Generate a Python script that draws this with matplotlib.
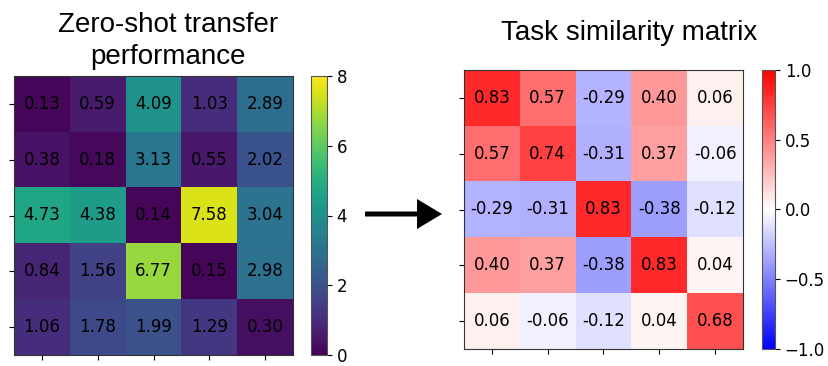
import numpy as np
import matplotlib
matplotlib.use("Agg")
import matplotlib.pyplot as plt
from matplotlib.patches import FancyArrow

# zero-shot transfer values (rows = tasks)
transfer = [
    [0.13, 0.59, 4.09, 1.03, 2.89],
    [0.38, 0.18, 3.13, 0.55, 2.02],
    [4.73, 4.38, 0.14, 7.58, 3.04],
    [0.84, 1.56, 6.77, 0.15, 2.98],
    [1.06, 1.78, 1.99, 1.29, 0.30],
]

# task similarity values
similarity = [
    [0.83, 0.57, -0.29, 0.40, 0.06],
    [0.57, 0.74, -0.31, 0.37, -0.06],
    [-0.29, -0.31, 0.83, -0.38, -0.12],
    [0.40, 0.37, -0.38, 0.83, 0.04],
    [0.06, -0.06, -0.12, 0.04, 0.68],
]

W, H = 829, 366
fig = plt.figure(figsize=(W / 100, H / 100), dpi=100)


def px_axes(x0, y0, x1, y1):
    # pixel box (top-left origin) -> figure axes
    return fig.add_axes([x0 / W, 1 - y1 / H, (x1 - x0) / W, (y1 - y0) / H])


def heatmap(ax, cax, data, cmap, vmin, vmax, ticks):
    data = np.array(data)
    im = ax.imshow(data, cmap=cmap, vmin=vmin, vmax=vmax, aspect="auto")
    n = data.shape[0]
    for i in range(n):
        for j in range(data.shape[1]):
            ax.text(j, i, f"{data[i, j]:.2f}", ha="center", va="center",
                    color="black", fontsize=12)
    ax.set_xticks(range(data.shape[1]))
    ax.set_yticks(range(n))
    ax.set_xticklabels([])
    ax.set_yticklabels([])
    for s in ax.spines.values():
        s.set_color("#333333")
    cb = fig.colorbar(im, cax=cax, ticks=ticks)
    cb.ax.tick_params(labelsize=12)
    cb.outline.set_edgecolor("#555555")
    return cb


ax1 = px_axes(14, 76, 293, 355)
cax1 = px_axes(311, 76, 327, 355)
heatmap(ax1, cax1, transfer, "viridis", 0, 8, [0, 2, 4, 6, 8])

ax2 = px_axes(464, 70, 743, 349)
cax2 = px_axes(762, 70, 775, 349)
heatmap(ax2, cax2, similarity, "bwr", -1, 1, [-1.0, -0.5, 0.0, 0.5, 1.0])

title_font = dict(family="Liberation Sans", fontsize=20, ha="center", va="baseline")
fig.text(168 / W, 1 - 31.5 / H, "Zero-shot transfer", **title_font)
fig.text(168 / W, 1 - 63.5 / H, "performance", **title_font)
fig.text(629 / W, 1 - 40 / H, "Task similarity matrix", **title_font)

# arrow between the two panels
bg = fig.add_axes([0, 0, 1, 1], zorder=-1)
bg.set_xlim(0, W)
bg.set_ylim(H, 0)
bg.axis("off")
bg.add_patch(FancyArrow(365, 214, 77, 0, width=5, head_width=30, head_length=25,
                        length_includes_head=True, color="black", lw=0))

fig.savefig("out.png", dpi=100)
